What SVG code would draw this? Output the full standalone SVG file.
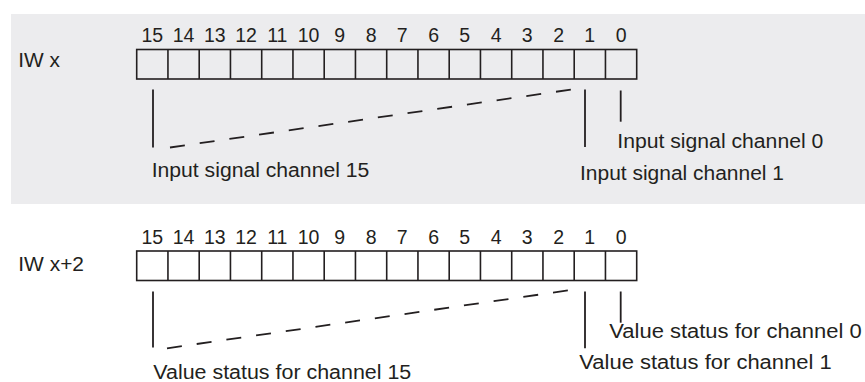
<svg xmlns="http://www.w3.org/2000/svg" width="865" height="382" viewBox="0 0 865 382">
<defs>
<style>
.bg{fill:#ececee}
.cell{fill:none;stroke:#231f20;stroke-width:1.6}
.lead{stroke:#231f20;stroke-width:1.8;fill:none}
.dash{stroke:#231f20;stroke-width:1.8;fill:none;stroke-dasharray:15 15}
.num{font-family:"Liberation Sans",Arial,sans-serif;font-size:19.5px;fill:#231f20;text-anchor:middle}
.lbl{font-family:"Liberation Sans",Arial,sans-serif;font-size:19.5px;fill:#231f20}
</style>
<g id="cells">
<rect class="cell" x="136.7" y="0" width="500" height="29.5"/>
<path class="cell" d="M167.95 0V29.5M199.2 0V29.5M230.45 0V29.5M261.7 0V29.5M292.95 0V29.5M324.2 0V29.5M355.45 0V29.5M386.7 0V29.5M417.95 0V29.5M449.2 0V29.5M480.45 0V29.5M511.7 0V29.5M542.95 0V29.5M574.2 0V29.5M605.45 0V29.5"/>
</g>
<g id="nums">
<text class="num" x="152.3">15</text><text class="num" x="183.6">14</text><text class="num" x="214.8">13</text><text class="num" x="246.1">12</text><text class="num" x="277.3">11</text><text class="num" x="308.6">10</text><text class="num" x="339.8">9</text><text class="num" x="371.1">8</text><text class="num" x="402.3">7</text><text class="num" x="433.6">6</text><text class="num" x="464.8">5</text><text class="num" x="496.1">4</text><text class="num" x="527.3">3</text><text class="num" x="558.6">2</text><text class="num" x="589.8">1</text><text class="num" x="621.1">0</text>
</g>
</defs>
<rect class="bg" x="11" y="14" width="854" height="190"/>

<g id="register-iwx">
<text class="lbl" x="18.3" y="67" textLength="41.7" lengthAdjust="spacingAndGlyphs">IW x</text>
<use href="#nums" y="41.5"/>
<use href="#cells" y="49.5"/>
</g>
<g id="register-iwx2">
<text class="lbl" x="18.3" y="270.7" textLength="65.7" lengthAdjust="spacingAndGlyphs">IW x+2</text>
<use href="#nums" y="244"/>
<use href="#cells" y="251"/>
</g>

<g id="connectors">
<line class="lead" x1="153" y1="89.5" x2="153" y2="147.5"/>
<line class="dash" x1="170" y1="147.5" x2="575" y2="89"/>
<line class="lead" x1="585" y1="89.5" x2="585" y2="147"/>
<line class="lead" x1="620.7" y1="90.5" x2="620.7" y2="121.7"/>
<line class="lead" x1="153" y1="291.5" x2="153" y2="347.5"/>
<line class="dash" x1="167" y1="348.3" x2="571" y2="290"/>
<line class="lead" x1="585" y1="291.5" x2="585" y2="348.3"/>
<line class="lead" x1="620.7" y1="291.5" x2="620.7" y2="322.7"/>
</g>

<g id="labels-iwx">
<text class="lbl" x="151.7" y="177.3" textLength="217.6" lengthAdjust="spacingAndGlyphs">Input signal channel 15</text>
<text class="lbl" x="617.3" y="148.3" textLength="206" lengthAdjust="spacingAndGlyphs">Input signal channel 0</text>
<text class="lbl" x="580" y="180" textLength="204" lengthAdjust="spacingAndGlyphs">Input signal channel 1</text>
</g>
<g id="labels-iwx2">
<text class="lbl" x="153.3" y="379" textLength="258" lengthAdjust="spacingAndGlyphs">Value status for channel 15</text>
<text class="lbl" x="609.3" y="338.3" textLength="252.4" lengthAdjust="spacingAndGlyphs">Value status for channel 0</text>
<text class="lbl" x="579.3" y="369" textLength="252.4" lengthAdjust="spacingAndGlyphs">Value status for channel 1</text>
</g>
</svg>
